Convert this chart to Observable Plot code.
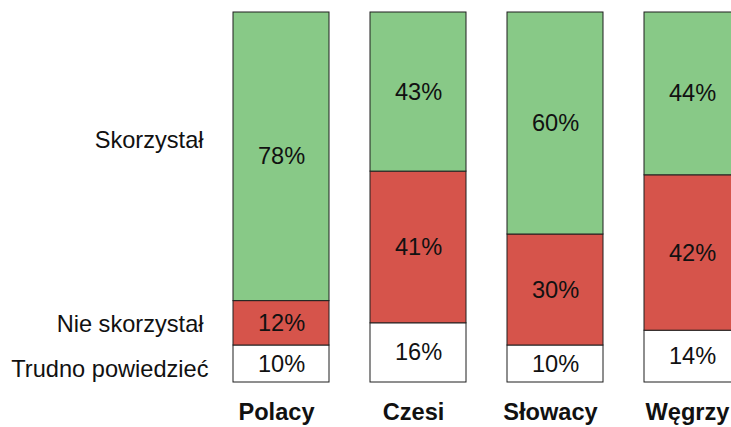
<!DOCTYPE html>
<html>
<head>
<meta charset="utf-8">
<script src="https://cdn.jsdelivr.net/npm/d3@7"></script>
<script src="https://cdn.jsdelivr.net/npm/@observablehq/plot@0.6"></script>
<style>
  html, body { margin: 0; padding: 0; background: #fff; overflow: hidden; }
  #chart svg { overflow: hidden; display: block; }
</style>
</head>
<body>
<div id="chart"></div>
<script>
const categories = ["Polacy", "Czesi", "Słowacy", "Węgrzy"];
const seriesNames = ["Trudno powiedzieć", "Nie skorzystał", "Skorzystał"]; // bottom to top
const trudno = [10, 16, 10, 14];
const nieSkorzystal = [12, 41, 30, 42];
const skorzystal = [78, 43, 60, 44];
const seriesColors = ["#ffffff", "#d6544b", "#88c987"];

const seriesValues = [trudno, nieSkorzystal, skorzystal];
const rows = [];
seriesNames.forEach((s, si) => {
  categories.forEach((c, ci) => {
    rows.push({category: c, series: s, value: seriesValues[si][ci]});
  });
});

// series labels sit beside the first column, at the middle of each of its segments
let cum = 0;
const labelRows = seriesNames.map((s, si) => {
  const v = seriesValues[si][0];
  const mid = cum + v / 2;
  cum += v;
  return {category: categories[0], series: s, mid};
});

const font = "'Liberation Sans', Arial, Helvetica, sans-serif";
const fs = 23.6;

function seriesLabel(name, dx, dy) {
  return Plot.text(labelRows.filter(d => d.series === name), {
    x: "category", y: "mid", text: "series", textAnchor: "end", dx, dy,
    fontSize: fs, fill: "#111", fontFamily: font
  });
}

const chart = Plot.plot({
  width: 731,
  height: 427,
  marginTop: 12,
  marginBottom: 45,
  marginLeft: 0,
  marginRight: 0,
  style: {fontFamily: font, background: "#fff"},
  x: {domain: categories, range: [191, 782], padding: 0.3},
  y: {domain: [0, 100], axis: null},
  color: {domain: seriesNames, range: seriesColors},
  marks: [
    Plot.barY(rows, Plot.stackY({
      x: "category", y: "value", z: "series", order: seriesNames,
      fill: "series", stroke: "#1f1f1f", strokeWidth: 1
    })),
    Plot.text(rows, Plot.stackY({
      x: "category", y: "value", z: "series", order: seriesNames,
      text: d => d.value + "%", fontSize: fs, fill: "#111", fontFamily: font
    })),
    seriesLabel("Skorzystał", -78, -16),
    seriesLabel("Nie skorzystał", -78, 1),
    seriesLabel("Trudno powiedzieć", -73, 5),
    Plot.axisX({
      tickSize: 0, tickPadding: 21, dx: -5, fontSize: fs, fontWeight: "bold",
      fill: "#111", fontFamily: font, label: null
    })
  ]
});
document.getElementById("chart").appendChild(chart);
</script>
</body>
</html>
